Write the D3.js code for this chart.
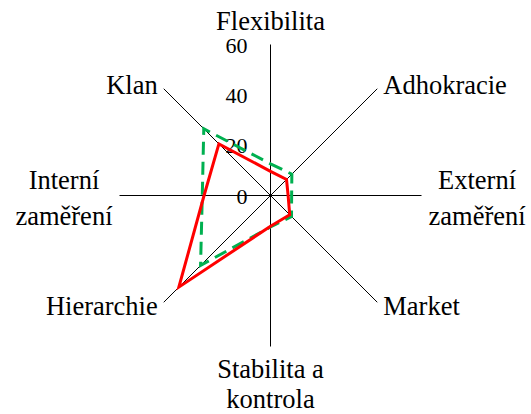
<!DOCTYPE html>
<html>
<head>
<meta charset="utf-8">
<script src="https://cdn.jsdelivr.net/npm/d3@7"></script>
<style>
  body { margin: 0; background: #fff; }
  svg text { font-family: "Liberation Serif", "Times New Roman", serif; }
</style>
</head>
<body>
<svg id="radar"></svg>
<script>
// axis names, clockwise from the top ("\n" = line break)
const categories = ["Flexibilita", "Adhokracie", "Externí\nzaměření", "Market",
  "Stabilita a\nkontrola", "Hierarchie", "Interní\nzaměření", "Klan"];
const valuesGreen = [12.6, 12, 8.4, 11.8, 12.5, 39.3, 27.1, 37.5];
const valuesRed = [9.6, 9, 7, 10.8, 12.2, 51.5, 26.4, 29];
const tickValues = [0, 20, 40, 60];

const width = 531, height = 414;
const cx = 270.5, cy = 195.5, R = 151;
const labelSize = 26.5;

const svg = d3.select("#radar")
    .attr("width", width)
    .attr("height", height)
    .append("g")
    .attr("transform", `translate(${cx}, ${cy})`);

const r = d3.scaleLinear().domain([0, 60]).range([0, R]);
const angle = d3.scalePoint()
    .domain(d3.range(categories.length))
    .range([0, 2 * Math.PI * (categories.length - 1) / categories.length]);

// spokes
svg.selectAll("line.spoke")
    .data(categories)
    .enter().append("line")
    .attr("class", "spoke")
    .attr("x1", 0).attr("y1", 0)
    .attr("x2", (d, i) => r(60) * Math.sin(angle(i)))
    .attr("y2", (d, i) => -r(60) * Math.cos(angle(i)))
    .attr("stroke", "#000")
    .attr("stroke-width", 1);

// value labels along the top spoke
svg.selectAll("text.tick")
    .data(tickValues)
    .enter().append("text")
    .attr("class", "tick")
    .attr("x", -23)
    .attr("y", d => -r(d) + 8)
    .attr("text-anchor", "end")
    .style("font-size", "22px")
    .text(d => d);

// series
const radial = d3.lineRadial()
    .angle((d, i) => angle(i))
    .radius(d => r(d))
    .curve(d3.curveLinearClosed);

svg.append("path")
    .attr("d", radial(valuesGreen))
    .attr("fill", "none")
    .attr("stroke", "#00b050")
    .attr("stroke-width", 3)
    .attr("stroke-dasharray", "13,7");

svg.append("path")
    .attr("d", radial(valuesRed))
    .attr("fill", "none")
    .attr("stroke", "#ff0000")
    .attr("stroke-width", 3);

// category labels
categories.forEach(function (name, i) {
    const a = angle(i);
    const sx = Math.sin(a), sy = -Math.cos(a);
    const ex = R * sx, ey = R * sy;
    const lines = name.split("\n");
    const t = svg.append("text").style("font-size", labelSize + "px");
    const spans = t.selectAll("tspan").data(lines).enter().append("tspan").text(d => d);
    const w = d3.max(spans.nodes(), n => n.getComputedTextLength());

    let x, y0, step = 36, anchor = "middle";
    if (Math.abs(sx) < 0.01) {
        // top / bottom
        x = ex;
        step = 30;
        y0 = sy < 0 ? ey - 15 - (lines.length - 1) * step : ey + 31;
    } else if (Math.abs(sy) < 0.01) {
        // left / right, block centred beside the spoke end
        x = ex + Math.sign(sx) * (7 + w / 2);
        y0 = ey - 7;
    } else {
        anchor = sx > 0 ? "start" : "end";
        x = ex + Math.sign(sx) * 6;
        y0 = ey + (sy < 0 ? 5.5 : 13);
    }
    t.attr("text-anchor", anchor);
    spans.attr("x", x).attr("y", (d, k) => y0 + k * step);
});
</script>
</body>
</html>
